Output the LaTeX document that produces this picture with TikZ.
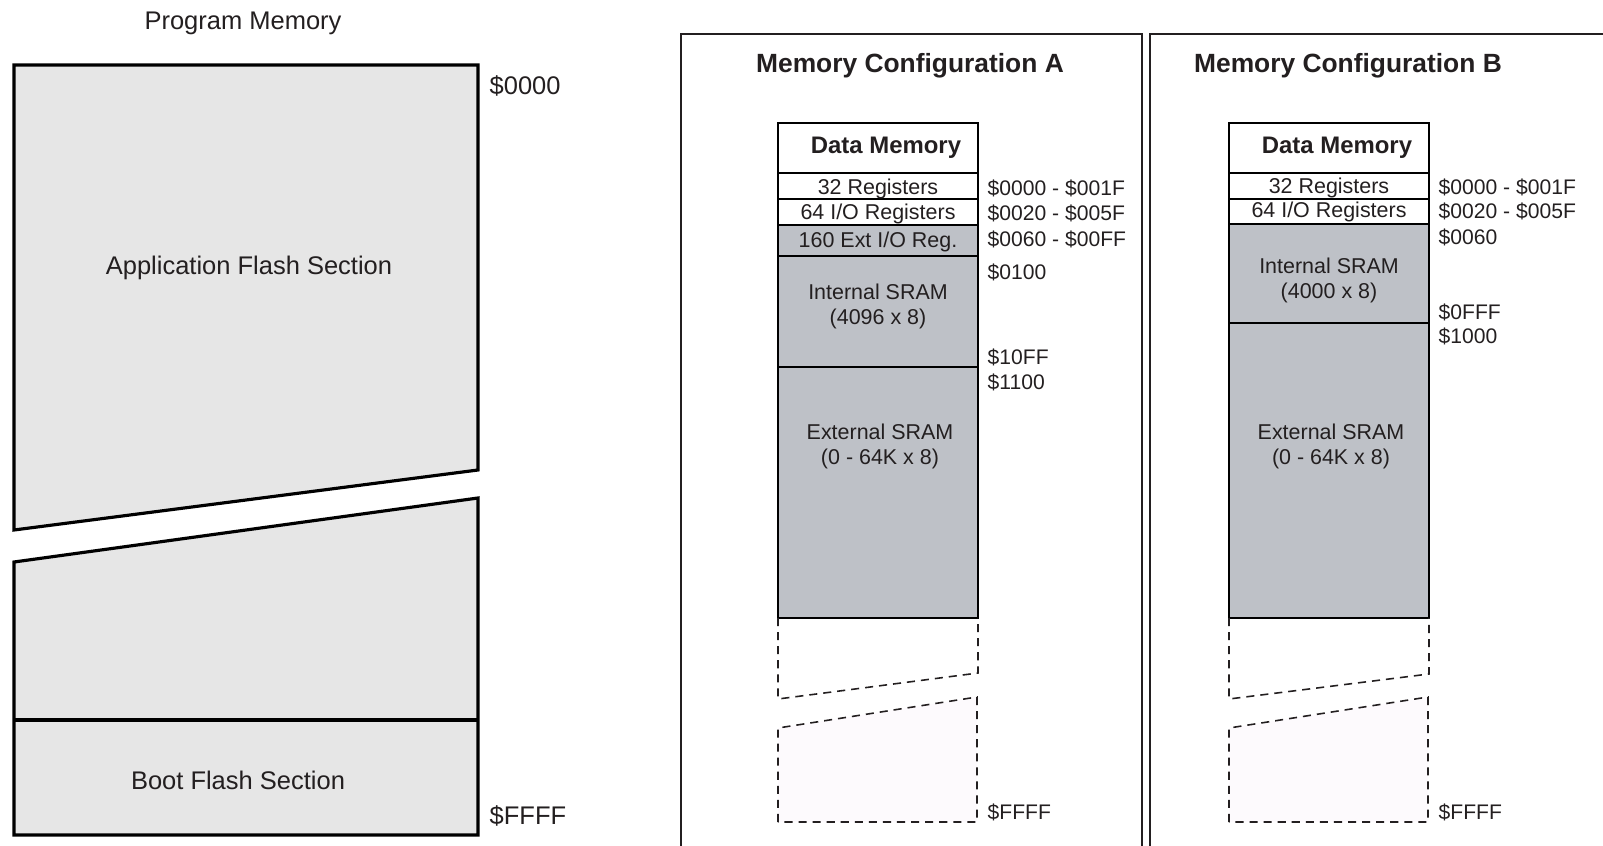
\documentclass[tikz,border=0pt]{standalone}
\usepackage{fontspec}
\setmainfont{Liberation Sans}
\usepackage{tikz}
\usetikzlibrary{positioning}

\definecolor{flashgray}{HTML}{E6E6E6}
\definecolor{sramgray}{HTML}{BEC1C7}
\definecolor{extpink}{HTML}{FDFAFD}
\definecolor{inkgray}{HTML}{231F20}

\begin{document}
\begin{tikzpicture}[x=0.01cm,y=-0.01cm,node distance=0.25cm,
                    every node/.style={inner sep=0pt,text=inkgray},
                    flash/.style={draw=black,fill=flashgray,line width=0.9pt},
                    frame/.style={draw=inkgray,line width=0.45pt},
                    memline/.style={draw=black,line width=0.75pt},
                    rowline/.style={draw=black,line width=0.35pt},
                    dashline/.style={draw=inkgray,line width=0.45pt,dash pattern=on 2.3pt off 1.7pt}]

  \tikzstyle{bigtext} = [font=\fontsize{7.25}{8.7}\selectfont]
  \tikzstyle{cfgtext} = [font=\fontsize{7.5}{9}\selectfont\bfseries]
  \tikzstyle{dmtext}  = [font=\fontsize{6.8}{8}\selectfont\bfseries]
  \tikzstyle{boxtext} = [font=\fontsize{6.1}{7.1}\selectfont,align=center]
  \tikzstyle{addr}    = [font=\fontsize{6}{7}\selectfont,anchor=west]

  \useasboundingbox (0,0) rectangle (1603,846);

  % program memory
  \draw[flash] (14,65) -- (478,65) -- (478,470) -- (14,530) -- cycle;
  \draw[flash] (14,562) -- (478,498) -- (478,835) -- (14,835) -- cycle;
  \draw[flash] (14,720) -- (478,720);

  \node[bigtext] (prog) at (243,23)  {Program Memory};
  \node[bigtext] (app)  at (249,268) {Application Flash Section};
  \node[bigtext] (boot) at (238,780) {Boot Flash Section};
  \node[bigtext,anchor=west] (p0000) at (489,86)  {\$0000};
  \node[bigtext,anchor=west] (pFFFF) at (489,816) {\$FFFF};

  % frames
  \draw[frame] (681,870) |- (1142,34) -- (1142,870);
  \draw[frame] (1150,870) |- (1620,34);

  % configuration A
  \fill[sramgray] (778,225) rectangle (978,618);
  \draw[rowline] (778,173) -- (978,173)
                 (778,199) -- (978,199)
                 (778,225) -- (978,225)
                 (778,256) -- (978,256)
                 (778,367) -- (978,367);
  \draw[memline] (778,123) rectangle (978,618);
  \draw[dashline] (778,618) -- (778,699) -- (978,673) -- (978,618);
  \draw[dashline,fill=extpink] (778,822) -- (778,728) -- (977,697) -- (977,822) -- cycle;

  \node[cfgtext] (cfgA) at (910,66)  {Memory Configuration A};
  \node[dmtext]  (dmA)  at (886,148) {Data Memory};
  \node[boxtext] (regA) at (878,189) {32 Registers};
  \node[boxtext] (ioA)  at (878,214) {64 I/O Registers};
  \node[boxtext] (extioA) at (878,242) {160 Ext I/O Reg.};
  \node[boxtext] (intA) at (878,306) {Internal SRAM\\(4096 x 8)};
  \node[boxtext] (extA) at (880,446) {External SRAM\\(0 - 64K x 8)};

  \node[addr] (a1) at (987,188) {\$0000 - \$001F};
  \node[addr] (a2) at (987,213) {\$0020 - \$005F};
  \node[addr] (a3) at (987,239) {\$0060 - \$00FF};
  \node[addr] (a4) at (987,272) {\$0100};
  \node[addr] (a5) at (987,357) {\$10FF};
  \node[addr] (a6) at (987,382) {\$1100};
  \node[addr] (a7) at (987,812) {\$FFFF};

  % configuration B
  \fill[sramgray] (1229,224) rectangle (1429,618);
  \draw[rowline] (1229,173) -- (1429,173)
                 (1229,199) -- (1429,199)
                 (1229,224) -- (1429,224)
                 (1229,323) -- (1429,323);
  \draw[memline] (1229,123) rectangle (1429,618);
  \draw[dashline] (1229,618) -- (1229,699) -- (1429,674) -- (1429,618);
  \draw[dashline,fill=extpink] (1229,822) -- (1229,728) -- (1428,697) -- (1428,822) -- cycle;

  \node[cfgtext] (cfgB) at (1348,66)  {Memory Configuration B};
  \node[dmtext]  (dmB)  at (1337,148) {Data Memory};
  \node[boxtext] (regB) at (1329,188) {32 Registers};
  \node[boxtext] (ioB)  at (1329,212) {64 I/O Registers};
  \node[boxtext] (intB) at (1329,280) {Internal SRAM\\(4000 x 8)};
  \node[boxtext] (extB) at (1331,446) {External SRAM\\(0 - 64K x 8)};

  \node[addr] (b1) at (1438,187) {\$0000 - \$001F};
  \node[addr] (b2) at (1438,211) {\$0020 - \$005F};
  \node[addr] (b3) at (1438,237) {\$0060};
  \node[addr] (b4) at (1438,312) {\$0FFF};
  \node[addr] (b5) at (1438,336) {\$1000};
  \node[addr] (b6) at (1438,812) {\$FFFF};
\end{tikzpicture}
\end{document}
